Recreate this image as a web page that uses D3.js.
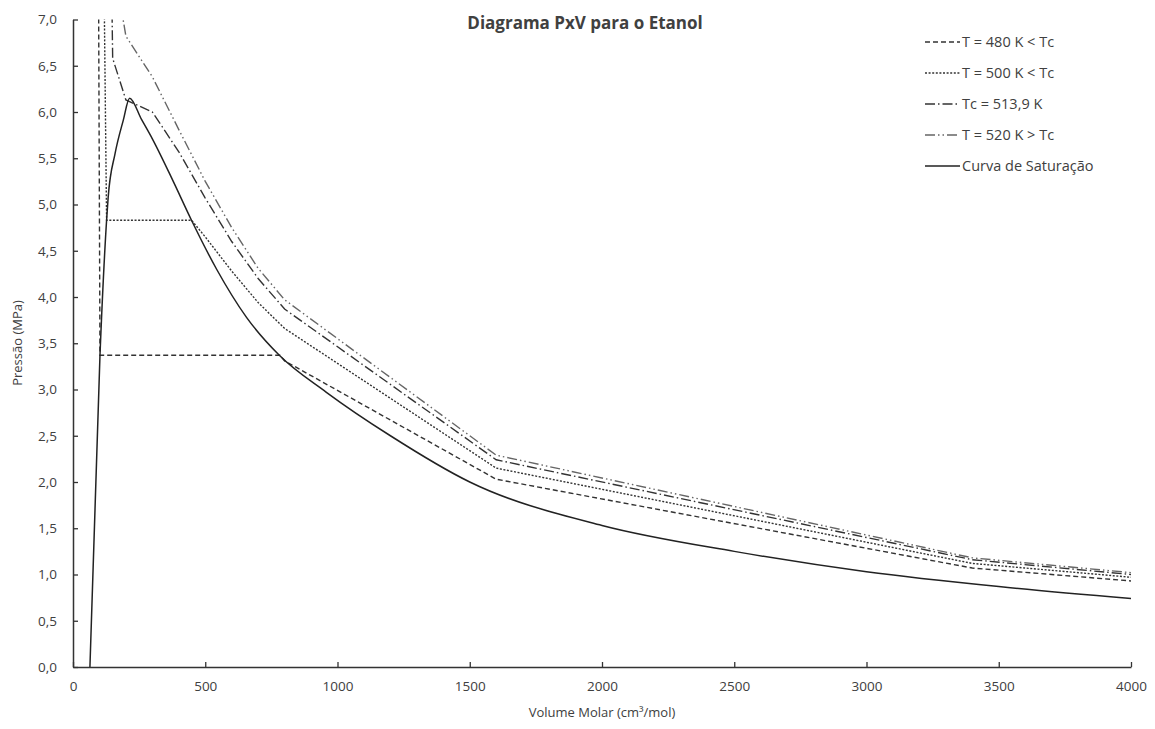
<!DOCTYPE html>
<html><head><meta charset="utf-8">
<script src="https://cdn.jsdelivr.net/npm/d3@7"></script>
<style>
body{margin:0;background:#fff;}
text{font-family:"Open Sans","Noto Sans",sans-serif;fill:#404040;}
</style></head>
<body><svg id="chart" width="1155" height="729"></svg>
<script>
// ---- data ----
const xTicks = [0, 500, 1000, 1500, 2000, 2500, 3000, 3500, 4000];
const xTickLabels = ["0","500","1000","1500","2000","2500","3000","3500","4000"];
const yTicks = [0,0.5,1,1.5,2,2.5,3,3.5,4,4.5,5,5.5,6,6.5,7];
const yTickLabels = ["0,0","0,5","1,0","1,5","2,0","2,5","3,0","3,5","4,0","4,5","5,0","5,5","6,0","6,5","7,0"];

const v480 = [90, 102, 782, 800, 1600, 3400, 4000];
const p480 = [12.2, 3.37, 3.37, 3.31, 2.03, 1.07, 0.93];

const v500 = [100, 127, 448, 500, 600, 700, 800, 1600, 3400, 4000];
const p500 = [12.0, 4.83, 4.83, 4.65, 4.28, 3.94, 3.66, 2.15, 1.12, 0.97];

const vTc = [100, 150, 200, 300, 400, 500, 600, 700, 800, 1600, 3400, 4000];
const pTc = [17.1, 6.58, 6.13, 6.0, 5.57, 5.07, 4.6, 4.2, 3.87, 2.24, 1.16, 1.0];

const v520 = [100, 150, 200, 300, 400, 500, 600, 700, 800, 1600, 3400, 4000];
const p520 = [19.3, 7.67, 6.82, 6.38, 5.81, 5.25, 4.75, 4.31, 3.97, 2.29, 1.18, 1.02];

const vSat = [64, 102, 127, 133, 159, 190, 214, 259, 300, 379, 448, 543, 656, 780, 958, 1200, 1500, 2000, 2500, 3000, 3500, 4000];
const pSat = [0, 3.37, 4.83, 5.08, 5.55, 5.91, 6.15, 5.92, 5.71, 5.25, 4.83, 4.30, 3.78, 3.37, 2.97, 2.5, 2.0, 1.53, 1.25, 1.03, 0.87, 0.74];

const seriesNames = ["T = 480 K < Tc", "T = 500 K < Tc", "Tc = 513,9 K", "T = 520 K > Tc", "Curva de Saturação"];

// ---- styles ----
const styles = [
  {dash:"5,3", color:"#333", w:1.4, curve:d3.curveLinear},
  {dash:"2,1.6", color:"#333", w:1.4, curve:d3.curveLinear},
  {dash:"10,3,1.5,3", color:"#333", w:1.4, curve:d3.curveLinear},
  {dash:"10,3,1.5,3,1.5,3", color:"#666", w:1.4, curve:d3.curveLinear},
  {dash:null, color:"#222", w:1.5, curve:d3.curveMonotoneX}
];
const seriesData = [
  d3.zip(v480, p480), d3.zip(v500, p500), d3.zip(vTc, pTc), d3.zip(v520, p520), d3.zip(vSat, pSat)
];

const svg = d3.select("#chart");
const m = {left:73, right:1131, top:19.5, bottom:667};
const x = d3.scaleLinear().domain([0, 4000]).range([m.left, m.right]);
const y = d3.scaleLinear().domain([0, 7]).range([m.bottom, m.top]);

svg.append("rect").attr("width",1155).attr("height",729).attr("fill","#fff");

svg.append("defs").append("clipPath").attr("id","clip")
  .append("rect").attr("x", m.left).attr("y", m.top)
  .attr("width", m.right - m.left).attr("height", m.bottom - m.top);

const g = svg.append("g").attr("clip-path","url(#clip)");
seriesData.forEach((d,i) => {
  const line = d3.line().x(p => x(p[0])).y(p => y(p[1])).curve(styles[i].curve);
  g.append("path").datum(d).attr("d", line)
    .attr("fill","none").attr("stroke", styles[i].color)
    .attr("stroke-width", styles[i].w)
    .attr("stroke-dasharray", styles[i].dash);
});

// axes
const xAxis = d3.axisBottom(x).tickValues(xTicks)
  .tickFormat((d,i) => xTickLabels[i]).tickSizeInner(-5).tickSizeOuter(0).tickPadding(14);
const gx = svg.append("g").attr("transform",`translate(0,${m.bottom})`).call(xAxis);
const yAxis = d3.axisLeft(y).tickValues(yTicks)
  .tickFormat((d,i) => yTickLabels[i]).tickSizeInner(-5).tickSizeOuter(0).tickPadding(16);
const gy = svg.append("g").attr("transform",`translate(${m.left},0)`).call(yAxis);
[gx, gy].forEach(a => {
  a.selectAll("path").attr("stroke","#333").attr("stroke-width",1.5);
  a.selectAll("line").attr("stroke","#333").attr("stroke-width",1.3);
  a.selectAll("text").attr("font-size",13.5).attr("fill","#404040")
    .attr("font-family",'"Open Sans","Noto Sans",sans-serif');
});

// title
svg.append("text").attr("x", 585).attr("y", 29).attr("text-anchor","middle")
  .attr("font-size",17).attr("font-weight",700).attr("fill","#222")
  .text("Diagrama PxV para o Etanol");

// axis titles
svg.append("text").attr("x", 602).attr("y", 717).attr("text-anchor","middle")
  .attr("font-size",13).text("Volume Molar (cm³/mol)");
svg.append("text").attr("transform","translate(22,343) rotate(-90)").attr("text-anchor","middle")
  .attr("font-size",13).text("Pressão (MPa)");

// legend
const lg = svg.append("g");
seriesNames.forEach((name,i) => {
  const yy = 42 + i*31;
  lg.append("line").attr("x1", 925).attr("x2", 960).attr("y1", yy).attr("y2", yy)
    .attr("stroke", styles[i].color).attr("stroke-width", styles[i].w)
    .attr("stroke-dasharray", styles[i].dash);
  lg.append("text").attr("x", 962).attr("y", yy + 5).attr("font-size",14.5).text(name);
});
</script></body></html>
